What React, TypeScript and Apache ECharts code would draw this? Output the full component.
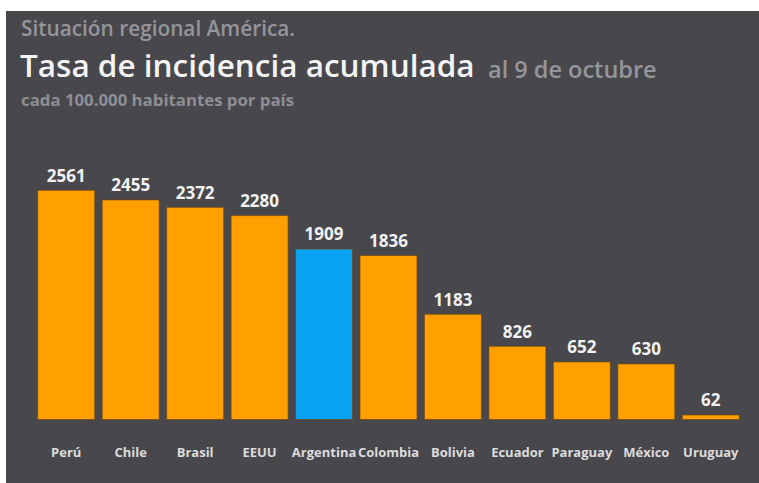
import React, { useEffect, useRef } from "react";
import * as echarts from "echarts";

const countries = ["Perú", "Chile", "Brasil", "EEUU", "Argentina", "Colombia", "Bolivia", "Ecuador", "Paraguay", "México", "Uruguay"];
const rates = [2561, 2455, 2372, 2280, 1909, 1836, 1183, 826, 652, 630, 62];
const highlight = "Argentina";

const FONT = "'Open Sans', 'Noto Sans', sans-serif";

export default function App() {
  const ref = useRef<HTMLDivElement>(null);
  useEffect(() => {
    document.body.style.margin = "0";
    const chart = echarts.init(ref.current!, null, { renderer: "svg" });
    chart.setOption({
      animation: false,
      backgroundColor: "#ffffff",
      textStyle: { fontFamily: FONT },
      graphic: [
        { type: "rect", z: -10, shape: { x: 6, y: 11, width: 760, height: 480 }, style: { fill: "#47474c" } },
        { type: "text", x: 21, y: 17, style: { text: "Situación regional América.", fill: "#95959a", font: `600 20.8px ${FONT}` } },
        { type: "text", x: 20, y: 48, style: { text: "Tasa de incidencia acumulada", fill: "#f4f4f4", font: `600 31.5px ${FONT}` } },
        { type: "text", x: 488, y: 57, style: { text: "al 9 de octubre", fill: "#95959a", font: `600 23.5px ${FONT}` } },
        { type: "text", x: 21, y: 91, style: { text: "cada 100.000 habitantes por país", fill: "#8e8e93", font: `700 16.8px ${FONT}` } },
      ],
      grid: { left: 34, right: 16, top: 150.4, bottom: 63, containLabel: false },
      xAxis: {
        type: "category",
        data: countries,
        axisLine: { show: false },
        axisTick: { show: false },
        axisLabel: { color: "#dcdcdc", fontSize: 13, fontWeight: 700, fontFamily: FONT, margin: 25, interval: 0 },
      },
      yAxis: {
        type: "value",
        min: 0,
        max: 3000,
        show: false,
        splitLine: { show: false },
      },
      series: [
        {
          type: "bar",
          barCategoryGap: "10%",
          data: rates.map((v, i) => ({
            value: v,
            itemStyle: { color: countries[i] === highlight ? "#0aa2f2" : "#ffa000" },
          })),
          itemStyle: { borderColor: "rgba(110,70,20,0.7)", borderWidth: 1 },
          label: {
            show: true,
            position: "top",
            distance: 6,
            color: "#f2f2f2",
            fontSize: 17,
            fontWeight: 700,
            fontFamily: FONT,
          },
        },
      ],
    });
    return () => chart.dispose();
  }, []);
  return <div ref={ref} style={{ width: 759, height: 483 }} />;
}
